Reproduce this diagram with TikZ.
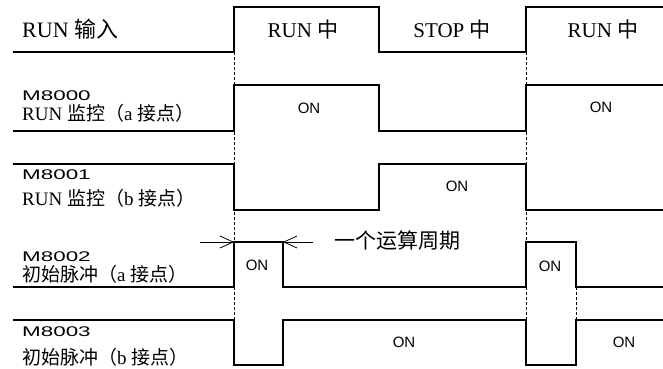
\documentclass[tikz,border=0pt]{standalone}
\usepackage{fontspec}
\setmainfont{Liberation Serif}
\setsansfont{Liberation Sans}
\newfontfamily\cjk{Noto Sans CJK SC}
\newcommand{\zhtxt}[1]{{\cjk #1}}
\usetikzlibrary{arrows.meta, positioning}

\begin{document}
\begin{tikzpicture}[x=1pt, y=-1pt, >={Straight Barb[length=13pt, width=12pt]}]
        \tikzstyle{sig} = [line width=1.3pt]
        \tikzstyle{guide} = [line width=0.6pt, dash pattern=on 3pt off 2pt]
        \tikzstyle{addr} = [anchor=base west, inner sep=0pt, font=\fontsize{14}{14}\sffamily]
        \tikzstyle{desc} = [anchor=base west, inner sep=0pt, font=\fontsize{19}{19}\selectfont]
        \tikzstyle{phase} = [anchor=base, inner sep=0pt, font=\fontsize{21}{21}\selectfont]
        \tikzstyle{onlbl} = [inner sep=0pt, font=\fontsize{15}{15}\sffamily]

        \useasboundingbox (0,0) rectangle (663,368);

        % Linii de referinta punctate
        \draw [guide] (234,7) -- (234,320);
        \draw [guide] (526,7) -- (526,320);
        \draw [guide] (576,287) -- (576,320);

        % Intrare RUN
        \node [desc, font=\fontsize{22}{22}\selectfont] (lblRun) at (22,37) {RUN \zhtxt{输入}};
        \draw [sig] (13,52) -- (234,52) -- (234,7) -- (379,7) -- (379,52) -- (526,52) -- (526,7) -- (663,7);
        \node [phase] (phRunA) at (303,37) {RUN \zhtxt{中}};
        \node [phase] (phStop) at (452,37) {STOP \zhtxt{中}};
        \node [phase] (phRunB) at (603,37) {RUN \zhtxt{中}};

        % M8000
        \node [addr] (adrA) at (22,100) {\scalebox{1.6}[1]{M8000}};
        \node [desc] (lblA) at (22,120) {RUN \zhtxt{监控（}a \zhtxt{接点）}};
        \draw [sig] (13,131) -- (234,131) -- (234,85) -- (379,85) -- (379,131) -- (526,131) -- (526,85) -- (663,85);
        \node [onlbl] (onA1) at (309,108) {ON};
        \node [onlbl] (onA2) at (601,107) {ON};

        % M8001
        \node [addr] (adrB) at (22,179) {\scalebox{1.6}[1]{M8001}};
        \node [desc] (lblB) at (22,205) {RUN \zhtxt{监控（}b \zhtxt{接点）}};
        \draw [sig] (13,164) -- (234,164) -- (234,210) -- (379,210) -- (379,164) -- (526,164) -- (526,210) -- (663,210);
        \node [onlbl] (onB1) at (457,186) {ON};

        % M8002
        \node [addr] (adrC) at (22,261) {\scalebox{1.6}[1]{M8002}};
        \node [desc] (lblC) at (22,281) {\zhtxt{初始脉冲（}a \zhtxt{接点）}};
        \draw [sig] (13,287) -- (234,287) -- (234,242) -- (283,242) -- (283,287) -- (526,287) -- (526,242) -- (576,242) -- (576,287) -- (663,287);
        \node [onlbl] (onC1) at (257,265) {ON};
        \node [onlbl] (onC2) at (550,266) {ON};

        % Un ciclu de calcul
        \coordinate (pulseS) at (234,242);
        \coordinate (pulseE) at (283,242);
        \coordinate (arrL) at (200,242);
        \coordinate (arrR) at (313,242);
        \draw [->, line width=0.8pt] (arrL) -- (pulseS);
        \draw [->, line width=0.8pt] (arrR) -- (pulseE);
        \node [anchor=west, inner sep=0pt, font=\fontsize{21}{21}\cjk] (cycle) at (334,241) {一个运算周期};

        % M8003
        \node [addr] (adrD) at (22,336) {\scalebox{1.6}[1]{M8003}};
        \node [desc] (lblD) at (22,364) {\zhtxt{初始脉冲（}b \zhtxt{接点）}};
        \draw [sig] (13,320) -- (234,320) -- (234,365) -- (283,365) -- (283,320) -- (526,320) -- (526,365) -- (576,365) -- (576,320) -- (663,320);
        \node [onlbl] (onD1) at (404,342) {ON};
        \node [onlbl] (onD2) at (624,342) {ON};

\end{tikzpicture}
\end{document}
